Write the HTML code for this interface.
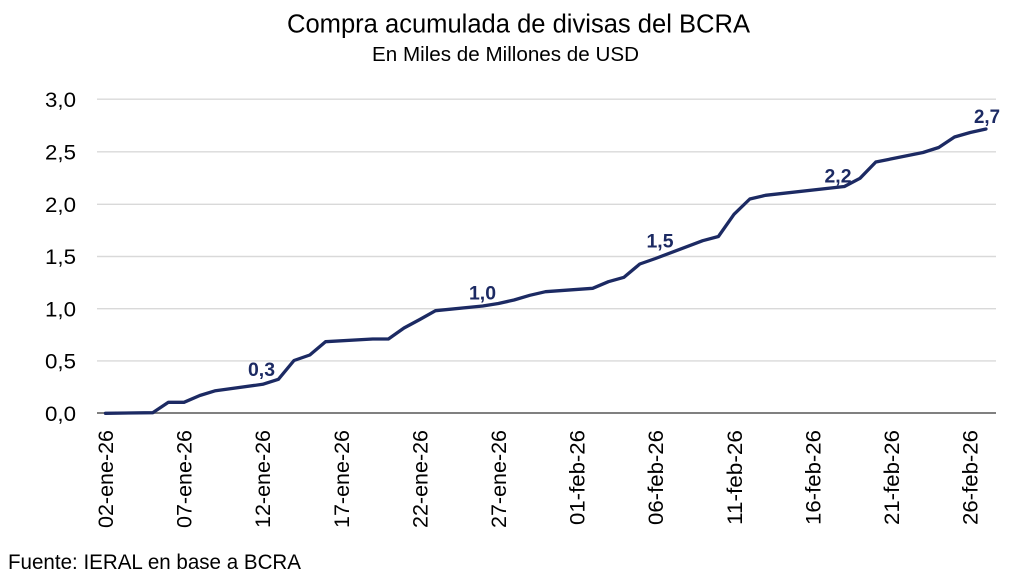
<!DOCTYPE html>
<html>
<head>
<meta charset="utf-8">
<style>
  html, body { margin: 0; padding: 0; background: #ffffff; }
  svg { display: block; }
  text { font-family: "Liberation Sans", "DejaVu Sans", sans-serif; }
</style>
</head>
<body>
<svg width="1024" height="582" viewBox="0 0 1024 582" xmlns="http://www.w3.org/2000/svg">
  <rect x="0" y="0" width="1024" height="582" fill="#ffffff"/>

  <!-- Title -->
  <text x="287" y="32.5" font-size="25.5" fill="#000" textLength="463" lengthAdjust="spacingAndGlyphs">Compra acumulada de divisas del BCRA</text>
  <text x="372" y="61" font-size="20.5" fill="#000" textLength="267" lengthAdjust="spacingAndGlyphs">En Miles de Millones de USD</text>

  <!-- Gridlines -->
  <g stroke="#d9d9d9" stroke-width="1.4">
    <line x1="97" y1="99.2" x2="996" y2="99.2"/>
    <line x1="97" y1="151.8" x2="996" y2="151.8"/>
    <line x1="97" y1="204.3" x2="996" y2="204.3"/>
    <line x1="97" y1="256.5" x2="996" y2="256.5"/>
    <line x1="97" y1="308.7" x2="996" y2="308.7"/>
    <line x1="97" y1="360.9" x2="996" y2="360.9"/>
  </g>
  <!-- Axis line -->
  <line x1="97" y1="413" x2="996" y2="413" stroke="#6e6e6e" stroke-width="1.7"/>

  <!-- Y labels -->
  <g font-size="21" fill="#000" text-anchor="end">
    <text x="76" y="107" textLength="31" lengthAdjust="spacingAndGlyphs">3,0</text>
    <text x="76" y="159.5" textLength="31" lengthAdjust="spacingAndGlyphs">2,5</text>
    <text x="76" y="212" textLength="31" lengthAdjust="spacingAndGlyphs">2,0</text>
    <text x="76" y="264" textLength="31" lengthAdjust="spacingAndGlyphs">1,5</text>
    <text x="76" y="316.5" textLength="31" lengthAdjust="spacingAndGlyphs">1,0</text>
    <text x="76" y="368.5" textLength="31" lengthAdjust="spacingAndGlyphs">0,5</text>
    <text x="76" y="421" textLength="31" lengthAdjust="spacingAndGlyphs">0,0</text>
  </g>

  <!-- X labels (rotated) -->
  <g font-size="21" fill="#000" text-anchor="end">
    <text transform="translate(113,430) rotate(-90)" textLength="98" lengthAdjust="spacingAndGlyphs">02-ene-26</text>
    <text transform="translate(191.6,430) rotate(-90)" textLength="98" lengthAdjust="spacingAndGlyphs">07-ene-26</text>
    <text transform="translate(270.2,430) rotate(-90)" textLength="98" lengthAdjust="spacingAndGlyphs">12-ene-26</text>
    <text transform="translate(348.8,430) rotate(-90)" textLength="98" lengthAdjust="spacingAndGlyphs">17-ene-26</text>
    <text transform="translate(427.4,430) rotate(-90)" textLength="98" lengthAdjust="spacingAndGlyphs">22-ene-26</text>
    <text transform="translate(506,430) rotate(-90)" textLength="98" lengthAdjust="spacingAndGlyphs">27-ene-26</text>
    <text transform="translate(584.6,430) rotate(-90)" textLength="95" lengthAdjust="spacingAndGlyphs">01-feb-26</text>
    <text transform="translate(663.2,430) rotate(-90)" textLength="95" lengthAdjust="spacingAndGlyphs">06-feb-26</text>
    <text transform="translate(741.8,430) rotate(-90)" textLength="95" lengthAdjust="spacingAndGlyphs">11-feb-26</text>
    <text transform="translate(820.4,430) rotate(-90)" textLength="95" lengthAdjust="spacingAndGlyphs">16-feb-26</text>
    <text transform="translate(899,430) rotate(-90)" textLength="95" lengthAdjust="spacingAndGlyphs">21-feb-26</text>
    <text transform="translate(977.6,430) rotate(-90)" textLength="95" lengthAdjust="spacingAndGlyphs">26-feb-26</text>
  </g>

  <!-- Series line -->
  <polyline fill="none" stroke="#1c2a63" stroke-width="3.3" stroke-linejoin="round" stroke-linecap="round"
    points="105.5,413.3 152.7,412.7 168.4,402.3 184,402.3 199.8,395.5 215.5,390.7 262.7,384.3 278.4,379.3 294,360.5 309.8,355 325.5,341.7 372.7,339 388.4,339 404,328 419.8,319.5 435.5,310.7 482.7,306 498.4,303.5 514,300 529.8,295.3 545.5,291.7 592.7,288.3 608.4,281.7 624,277.3 639.8,264 655.5,258.5 702.7,240.7 718.4,236.5 734,214.3 749.8,199 765.5,195.3 844.4,186.5 860,178.3 875.8,162 923,152.5 938.7,147.5 954.5,137 970.2,132.5 986,129"/>

  <!-- Data labels -->
  <g font-size="19" font-weight="bold" fill="#1c2a63" text-anchor="middle">
    <text x="261.5" y="376" textLength="27" lengthAdjust="spacingAndGlyphs">0,3</text>
    <text x="482.5" y="299.5" textLength="27" lengthAdjust="spacingAndGlyphs">1,0</text>
    <text x="660" y="247.5" textLength="27" lengthAdjust="spacingAndGlyphs">1,5</text>
    <text x="838" y="182.5" textLength="27" lengthAdjust="spacingAndGlyphs">2,2</text>
    <text x="987" y="123" textLength="26" lengthAdjust="spacingAndGlyphs">2,7</text>
  </g>

  <!-- Footer -->
  <text x="8" y="569" font-size="21" fill="#000" textLength="293" lengthAdjust="spacingAndGlyphs">Fuente: IERAL en base a BCRA</text>
</svg>
</body>
</html>
